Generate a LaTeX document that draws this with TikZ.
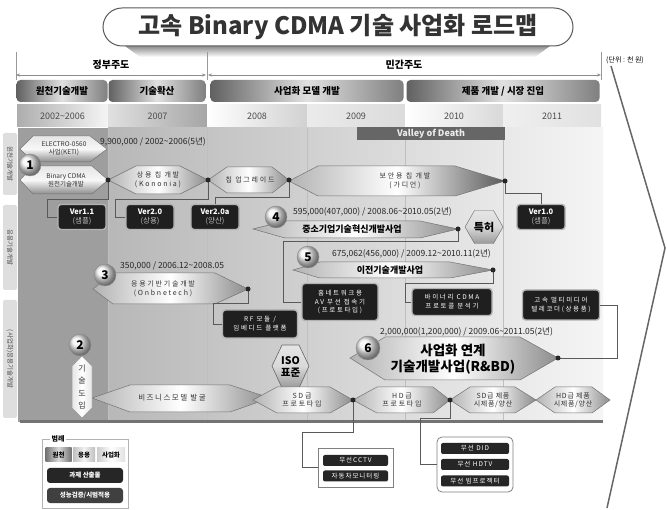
\documentclass[tikz,border=0pt]{standalone}
\usepackage{fontspec}
\setmainfont{Noto Sans CJK KR}
\usetikzlibrary{shapes.geometric,arrows.meta}
\newcommand{\hxshape}[8]{\path[#1] (#2,#7) -- (#3,#6) -- (#4,#6) -- (#5,#7) -- (#4,#8) -- (#3,#8) -- cycle;}
\tikzset{
  hexv/.style={draw=black!55, line width=0.5pt, top color=black!10, bottom color=black!45, middle color=black!3},
  hexh/.style={draw=black!55, line width=0.5pt, left color=black!30, right color=black!45, middle color=white},
  hexsec/.style={draw=black!55, line width=0.5pt, left color=black!30, right color=black!65, middle color=white},
  txt/.style={inner sep=0pt, align=center, font=\fontsize{7}{8.5}\selectfont\addfontfeatures{LetterSpace=25}, text=black!80},
  amt/.style={inner sep=0pt, anchor=west, font=\fontsize{8.5}{9}\selectfont, text=black!85},
  dotn/.style={circle, fill=black!85, inner sep=0pt, minimum size=5pt},
  conn/.style={draw=black!65, line width=0.6pt},
  verbox/.style={rounded corners=3pt, fill=black!88, draw=black!30, line width=1.4pt, text=white, align=center, inner sep=0pt, minimum width=48pt, minimum height=25pt, font=\fontsize{7.5}{8.5}\selectfont},
  darkbox/.style={rounded corners=3pt, fill=black!88, draw=black!30, line width=1.4pt, text=white, align=center, inner sep=2pt, font=\fontsize{6.5}{9}\selectfont\addfontfeatures{LetterSpace=25}},
  numball/.style={circle, draw=black!45, shading=ball, ball color=black!6, minimum size=22pt, inner sep=0pt, font=\fontsize{12}{12}\selectfont\bfseries},
  phase/.style={rounded corners=4pt, minimum height=22pt, inner sep=0pt, left color=black!62, right color=black!50, middle color=black!12, font=\fontsize{9.5}{10}\selectfont\bfseries},
  yearc/.style={minimum height=22pt, inner sep=0pt, left color=black!32, right color=black!4, font=\fontsize{9}{10}\selectfont, text=black!70},
  pill/.style={rounded corners=2pt, fill=black!85, text=white, inner sep=0pt, minimum width=65pt, minimum height=11pt, font=\fontsize{6.5}{7}\selectfont\addfontfeatures{LetterSpace=15}},
  striplbl/.style={rounded corners=2pt, fill=black!13},
  legc/.style={minimum width=26pt, minimum height=14pt, inner sep=0pt, font=\fontsize{6.5}{7}\selectfont\bfseries},
  hdr/.style={font=\fontsize{10}{11}\selectfont\bfseries, inner sep=0pt},
  harrow/.style={black!45, line width=0.6pt, {Stealth[length=4pt,width=3pt]}-{Stealth[length=4pt,width=3pt]}}
}
\begin{document}
\begin{tikzpicture}[x=1pt,y=-1pt]
\useasboundingbox (0,0) rectangle (667,510);
\fill[white] (0,0) rectangle (667,510);

% ---------- title ----------
\shade[top color=black!45, bottom color=white] (125,46) -- (550,46) -- (535,57) -- (140,57) -- cycle;
\node[draw=black!65, line width=1pt, rounded corners=19pt, minimum width=470pt, minimum height=38pt, fill=white, inner sep=0pt, font=\fontsize{24}{26}\selectfont\bfseries, text=black!80] (title) at (338,27) {고속 Binary CDMA 기술 사업화 로드맵};
\node[anchor=west, font=\fontsize{7}{8}\selectfont, inner sep=0pt] (unit) at (606,60) {(단위 : 천 원)};
\draw[black!60, line width=1.5pt] (611,66) -- (665,248) -- (607,508);

% ---------- header ----------
\node[hdr] (gov) at (111,65) {정부주도};
\node[hdr] (pri) at (404,65) {민간주도};
\draw[black!40, line width=0.5pt] (16,52) -- (16,80) (207,52) -- (207,80) (601,52) -- (601,80);
\draw[harrow] (16,75) -- (206,75);
\draw[harrow] (208,75) -- (601,75);

\node[phase, minimum width=91pt] (ph1) at (62,91) {원천기술개발};
\node[phase, minimum width=97pt] (ph2) at (157,91) {기술확산};
\node[phase, minimum width=193pt] (ph3) at (307,91) {사업화 모델 개발};
\node[phase, minimum width=193pt] (ph4) at (503,91) {제품 개발 / 시장 진입};

\node[yearc, minimum width=91pt] (y1) at (62.5,116) {2002\textasciitilde 2006};
\node[yearc, minimum width=99pt, left color=black!12, right color=black!35] (y2) at (157.5,116) {2007};
\node[yearc, minimum width=100pt, left color=white, right color=black!18] (y3) at (257,116) {2008};
\node[yearc, minimum width=98pt, left color=black!8, right color=black!14] (y4) at (356,116) {2009};
\node[yearc, minimum width=98pt, left color=white, right color=black!15] (y5) at (454,116) {2010};
\node[yearc, minimum width=98pt, left color=black!6, right color=black!12] (y6) at (552,116) {2011};

% ---------- background ----------
\fill[black!38] (18,128) rectangle (108,422);
\shade[left color=black!28, right color=black!4] (108,128) rectangle (603,422);
\draw[white!75!black, line width=0.5pt] (108,128) -- (108,422) (207,128) -- (207,422) (307,128) -- (307,422) (405,128) -- (405,422) (503,128) -- (503,422);
\draw[line width=3pt, black!55] (20,422) -- (603,422);
\node[fill=black!60, minimum width=148pt, minimum height=13pt, inner sep=0pt, text=black!8, font=\fontsize{9}{10}\selectfont\bfseries] (vod) at (431,134) {Valley of Death};

% left strips
\path[striplbl] (3,133) rectangle (17,195);
\node[rotate=-90, inner sep=0pt, font=\fontsize{6.5}{7}\selectfont, text=black!70] (lt1) at (10,164) {원천기술개발};
\path[striplbl] (3,205) rectangle (17,290);
\node[rotate=-90, inner sep=0pt, font=\fontsize{6.5}{7}\selectfont, text=black!70] (lt2) at (10,247.5) {응용기술개발};
\path[striplbl] (3,300) rectangle (17,418);
\node[rotate=-90, inner sep=0pt, font=\fontsize{6.5}{7}\selectfont, text=black!70] (lt3) at (10,359) {(사업화)응용기술개발};

% ---------- row 1 ----------
\hxshape{hexv}{20}{33}{90}{107}{136}{149}{162}
\node[txt, font=\fontsize{6.5}{8}\selectfont] (elec) at (64,149) {ELECTRO-0560\\사업(KETI)};
\hxshape{hexv}{20}{33}{92}{108}{166}{180}{194}
\node[txt, font=\fontsize{6.5}{8.5}\selectfont] (bin) at (66,180) {Binary CDMA\\원천기술개발};
\hxshape{hexh}{108}{136}{180}{208}{166}{180}{194}
\node[txt] (kon) at (158,180) {상용 칩 개발\\(Kononia)};
\hxshape{hexh}{208}{227}{272}{289}{167}{180}{193}
\node[txt] (upg) at (250,180) {칩 업그레이드};
\hxshape{hexsec}{289}{318}{455}{505}{166}{181}{196}
\node[txt] (secu) at (405,181) {보안용 칩 개발\\(가디언)};
\node[amt] (a1) at (100,142) {9,900,000 / 2002\textasciitilde 2006(5년)};
\node[numball] (c1) at (30,165) {1};

\node[verbox] (v11) at (82,217) {\textbf{Ver1.1}\\\textcolor{black!25}{(샘플)}};
\node[verbox] (v20) at (150,217) {\textbf{Ver2.0}\\\textcolor{black!25}{(상용)}};
\node[verbox] (v20a) at (215,217) {\textbf{Ver2.0a}\\\textcolor{black!25}{(양산)}};
\node[verbox] (v10) at (541,217) {\textbf{Ver1.0}\\\textcolor{black!25}{(샘플)}};

\coordinate (d1) at (108,180);
\coordinate (d2) at (208,180);
\coordinate (d3) at (289,180);
\coordinate (d4) at (505,181);
\draw[conn] (d1) -- ++(0,19) -- ++(-61,0) |- (v11.west);
\draw[conn] (d2) -- ++(0,19) -- ++(-93,0) |- (v20.west);
\draw[conn] (d3) -- ++(0,17) -| (v20a.north);
\draw[conn] (d4) -- ++(0,12) -| (v10.north);
\foreach \d in {d1,d2,d3,d4} \node[dotn] at (\d) {};

% ---------- row 2 ----------
\hxshape{hexh}{253}{285}{420}{458}{221}{229}{238}
\node[txt, font=\fontsize{9}{10}\selectfont\bfseries, text=black] (sme) at (352,229.5) {중소기업기술혁신개발사업};
\node[amt] (a4) at (293,212) {595,000(407,000) / 2008.06\textasciitilde 2010.05(2년)};
\node[numball] (c4) at (276,217) {4};
\node[regular polygon, regular polygon sides=6, minimum size=38pt, inner sep=0pt, draw=black!60, top color=black!10, bottom color=black!40, middle color=black!15, font=\fontsize{11}{12}\selectfont\bfseries] (pat) at (484,227) {특허};

\hxshape{hexh}{293}{320}{450}{493}{262}{270}{278}
\node[txt, font=\fontsize{9}{10}\selectfont\bfseries, text=black] (tech) at (390,270) {이전기술개발사업};
\node[amt] (a5) at (332,254) {675,062(456,000) / 2009.12\textasciitilde 2010.11(2년)};
\node[numball] (c5) at (308,257) {5};

\hxshape{hexh}{93}{113}{215}{248}{273}{289}{304}
\node[txt] (app) at (163,289) {응용기반기술개발\\(Onbnetech)};
\node[amt] (a3) at (120,266) {350,000 / 2006.12\textasciitilde 2008.05};
\node[numball] (c3) at (105,275) {3};

\node[darkbox, minimum width=75pt, minimum height=28pt] (rf) at (260,324) {RF 모듈 /\\임베디드 플랫폼};
\node[darkbox, minimum width=76pt, minimum height=37pt, font=\fontsize{6.5}{8.5}\selectfont\addfontfeatures{LetterSpace=25}] (hn) at (340,302) {홈네트워크용\\AV 무선 접속기\\(프로토타입)};
\node[darkbox, minimum width=80pt, minimum height=27pt] (bc) at (452,302) {바이너리 CDMA\\프로토콜 분석기};
\node[darkbox, minimum width=77pt, minimum height=30pt] (tm) at (561,305) {고속 멀티미디어\\텔레코더(상용품)};

\coordinate (d5) at (248,289);
\coordinate (d6) at (458,229);
\coordinate (d7) at (493,270);
\draw[conn] (d5) -- ++(0,14) -- ++(-35,0) |- (rf.west);
\draw[conn] (d6) -- ++(0,12) -- ++(-175,0) |- (hn.west);
\draw[conn] (d7) -- ++(0,13) -- ++(-88,0) |- (bc.west);

% ---------- row 3 ----------
\hxshape{hexh}{350}{385}{520}{558}{337}{358}{380}
\node[txt, font=\fontsize{13.5}{16}\selectfont\bfseries, text=black] (rbd) at (453,359) {사업화 연계\\기술개발사업(R\&BD)};
\node[amt] (a6) at (380,332) {2,000,000(1,200,000) / 2009.06\textasciitilde 2011.05(2년)};
\node[numball, minimum size=24pt] (c6) at (368,348) {6};
\coordinate (d8) at (558,358);
\draw[conn] (d8) -- ++(59,0) |- (tm.east);

\path[draw=black!60, line width=0.6pt, top color=black!10, bottom color=black!40, middle color=black!15] (272,366) -- (282,345) -- (299,345) -- (309,366) -- (299,388) -- (282,388) -- cycle;
\node[txt, font=\fontsize{10.5}{12}\selectfont\bfseries, text=black] (iso) at (290.5,366.5) {ISO\\표준};

\hxshape{hexh}{92}{130}{230}{270}{385}{398}{412}
\node[txt, font=\fontsize{7.5}{8.5}\selectfont\addfontfeatures{LetterSpace=20}] (biz) at (172,398) {비즈니스모델 발굴};
\hxshape{hexh}{253}{277}{330}{353}{387}{400}{413}
\node[txt] (sdp) at (302,400) {SD급\\프로토타입};
\hxshape{hexh}{353}{377}{433}{450}{387}{400}{413}
\node[txt] (hdp) at (402,400) {HD급\\프로토타입};
\hxshape{hexh}{450}{470}{515}{536}{387}{400}{413}
\node[txt, font=\fontsize{7}{8.5}\selectfont\addfontfeatures{LetterSpace=10}] (sdm) at (493,400) {SD급 제품\\시제품/양산};
\hxshape{hexh}{536}{555}{592}{610}{387}{400}{413}
\node[txt, font=\fontsize{7}{8.5}\selectfont\addfontfeatures{LetterSpace=10}] (hdm) at (573,400) {HD급 제품\\시제품/양산};

\path[draw=black!40, line width=0.5pt, left color=black!10, right color=black!10, middle color=white] (82,356) -- (92,366) -- (92,408) -- (82,418) -- (72,408) -- (72,366) -- cycle;
\node[txt, font=\fontsize{8}{12.5}\selectfont] (intro) at (82,387) {기\\술\\도\\입};
\node[numball] (c2) at (80,345) {2};

% ---------- products ----------
\node[draw=black!50, line width=0.8pt, fill=white, minimum width=75pt, minimum height=39pt, inner sep=0pt] (pb1) at (355.5,467.5) {};
\node[pill] (p11) at (355.5,460.5) {무선CCTV};
\node[pill] (p12) at (355.5,476) {자동차모니터링};
\node[draw=black!50, line width=0.8pt, rounded corners=5pt, fill=white, minimum width=76pt, minimum height=55pt, inner sep=0pt] (pb2) at (475,464.5) {};
\node[pill, minimum width=68pt] (p21) at (475,448.5) {무선 DID};
\node[pill, minimum width=68pt] (p22) at (475,464.5) {무선 HDTV};
\node[pill, minimum width=68pt] (p23) at (475,481) {무선 빔프로젝터};

\coordinate (d9) at (353,400);
\coordinate (d10) at (450,400);
\draw[conn] (d9) -- ++(0,32) -- ++(-51,0) |- (pb1.west);
\draw[conn] (d10) -- ++(0,18) -- ++(-30,0) |- (pb2.west);
\foreach \d in {d5,d6,d7,d8,d9,d10} \node[dotn] at (\d) {};

% ---------- legend ----------
\draw[black!30, line width=0.6pt] (42,439) rectangle (128,508);
\node[fill=white, inner sep=1.5pt, font=\fontsize{7}{8}\selectfont\bfseries] (lgt) at (58,439) {범례};
\node[legc, left color=black!55, right color=black!55, middle color=black!15] (lg1) at (58.5,455) {원천};
\node[legc, minimum width=22pt, left color=black!25, right color=black!25, middle color=black!5] (lg2) at (84,455) {응용};
\node[legc, minimum width=28pt, left color=black!20, right color=black!12, middle color=white] (lg3) at (111,455) {사업화};
\node[pill, minimum width=76pt, minimum height=15pt, rounded corners=3pt, font=\fontsize{6.5}{7}\selectfont\bfseries] (lg4) at (85,475.5) {과제 산출물};
\node[pill, fill=black!75, minimum width=76pt, minimum height=15pt, rounded corners=3pt, font=\fontsize{6.5}{7}\selectfont\bfseries] (lg5) at (85,495.5) {성능검증/시범적용};
\end{tikzpicture}
\end{document}
